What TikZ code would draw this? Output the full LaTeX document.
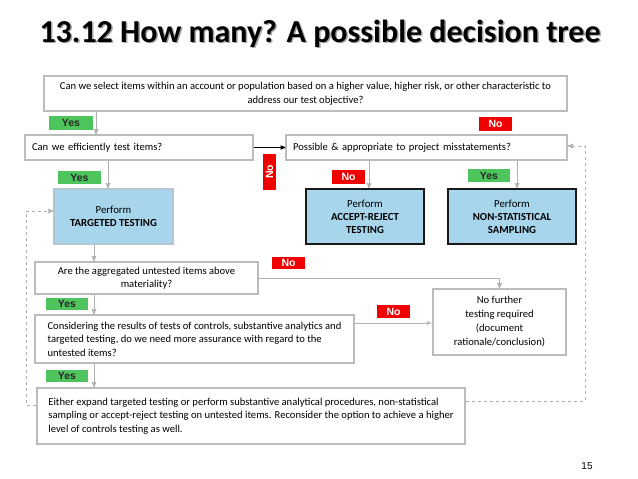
\documentclass[tikz,border=0pt]{standalone}
\usepackage{fontspec}
\setmainfont{Carlito}
\newfontfamily\tagfont{Liberation Sans}
\usetikzlibrary{arrows}
\definecolor{boxgray}{HTML}{BCBCBC}
\definecolor{linegray}{HTML}{B0B0B0}
\definecolor{bluefill}{HTML}{A6D5EC}
\definecolor{blueedge}{HTML}{B4C6D2}
\definecolor{taggreen}{HTML}{4DC45C}
\definecolor{tagred}{HTML}{F00000}
\tikzset{
	box/.style = {
		rectangle,
		draw=boxgray,
		line width=1.3pt,
		fill=white,
		inner sep=0pt,
		font=\fontsize{10.6}{13.5}\selectfont
	},
	box_c/.style = {
		box,
		align=center
	},
	box_l/.style = {
		box,
		align=left
	},
	box_line/.style = {
		box,
		align=left,
		inner xsep=7pt
	},
	box_blue/.style = {
		box_c,
		fill=bluefill,
		draw=blueedge,
		minimum height=55pt,
		font=\fontsize{10.8}{13}\selectfont
	},
	box_blue_dark/.style = {
		box_blue,
		draw=black!90
	},
	tag/.style = {
		rectangle,
		inner sep=0pt,
		font=\tagfont\bfseries\fontsize{10.5}{10.5}\selectfont,
		minimum height=13pt
	},
	tag_yes/.style = {
		tag,
		fill=taggreen,
		text=black!85,
		minimum width=43pt
	},
	tag_no/.style = {
		tag,
		fill=tagred,
		text=white,
		minimum width=33pt
	},
	line_gray/.style = {
		draw=linegray,
		line width=1pt,
		-stealth'
	},
	line_loop/.style = {
		line_gray,
		dashed
	}
}
\begin{document}
\begin{tikzpicture}[x=1pt,y=-1pt]
\useasboundingbox (0,0) rectangle (638,479);
\node [font=\bfseries\fontsize{32}{32}\selectfont, text=black!35] at (321.5,35) {13.12 How many? A possible decision tree};
\node (title) [font=\bfseries\fontsize{32}{32}\selectfont] at (320,33.5) {13.12 How many? A possible decision tree};
\node (q_select) [box_c, minimum width=523pt, minimum height=35pt] at (305.5,93.5)
	{Can we select items within an account or population based on a higher value, higher risk, or other characteristic to\\address our test objective?};
\node (q_efficient) [box_line, text width=214pt, minimum height=25pt] at (139,147.5) {Can we efficiently test items?};
\node (q_project) [box_line, text width=267pt, minimum height=25pt] at (426.5,147.5) {Possible \& appropriate to project misstatements?};
\node (p_targeted) [box_blue, minimum width=119pt] at (113.5,216.5) {Perform\\\textbf{TARGETED TESTING}};
\node (p_accept) [box_blue_dark, minimum width=118pt] at (365,216.5) {Perform\\\textbf{ACCEPT-REJECT}\\\textbf{TESTING}};
\node (p_nonstat) [box_blue_dark, minimum width=128pt] at (512,216.5) {Perform\\\textbf{NON-STATISTICAL}\\\textbf{SAMPLING}};
\node (q_material) [box_c, minimum width=223pt, minimum height=32pt] at (146.5,278) {Are the aggregated untested items above\\materiality?};
\node (q_assurance) [box_l, minimum width=319pt, minimum height=48pt] at (194.5,339)
	{Considering the results of tests of controls, substantive analytics and\\targeted testing, do we need more assurance with regard to the\\untested items?};
\node (p_none) [box_c, minimum width=133pt, minimum height=66pt, font=\fontsize{10.6}{14}\selectfont] at (499.5,322)
	{No further\\testing required\\(document\\rationale/conclusion)};
\node (p_expand) [box_l, minimum width=428pt, minimum height=56pt] at (251,416)
	{Either expand targeted testing or perform substantive analytical procedures, non-statistical\\sampling or accept-reject testing on untested items. Reconsider the option to achieve a higher\\level of controls testing as well.};
\node (page) [font=\tagfont\fontsize{10}{10}\selectfont] at (587,466) {15};

\node (yes_a) [tag_yes, minimum width=44pt, minimum height=14pt] at (71,123) {Yes};
\node (no_a) [tag_no, minimum height=14pt] at (495.5,124) {No};
\node (yes_b) [tag_yes] at (79.5,177.5) {Yes};
\node (no_b) [tag_no, rotate=90, minimum width=36pt] at (269.5,172) {No};
\node (no_c) [tag_no, minimum height=14pt] at (348.5,177) {No};
\node (yes_c) [tag_yes, minimum width=42pt] at (489,175.5) {Yes};
\node (no_d) [tag_no, minimum height=12pt] at (288.5,263) {No};
\node (yes_d) [tag_yes, minimum width=42pt, minimum height=12pt] at (67,304) {Yes};
\node (no_e) [tag_no] at (393.5,311.5) {No};
\node (yes_e) [tag_yes, minimum width=42pt, minimum height=12pt] at (67,376) {Yes};

\coordinate (col_a) at (96,0);
\coordinate (col_b) at (108,0);
\coordinate (col_c) at (369,0);
\coordinate (col_d) at (517,0);
\coordinate (col_e) at (94,0);
\coordinate (row_a) at (0,323);
\coordinate (loop_l_bot) at (26,405);
\coordinate (loop_l_top) at (26,211);
\coordinate (loop_r_bot) at (585,401);
\coordinate (loop_r_top) at (585,146);

\draw [line_gray] (q_select.south -| col_a) -- (q_efficient.north -| col_a);
\draw [draw=black, line width=0.8pt, -stealth'] (q_efficient.east) -- (q_project.west);
\draw [line_gray] (q_efficient.south -| col_b) -- (p_targeted.north -| col_b);
\draw [line_gray] (q_project.south -| col_c) -- (p_accept.north -| col_c);
\draw [line_gray] (q_project.south -| col_d) -- (p_nonstat.north -| col_d);
\draw [line_gray] (p_targeted.south -| col_e) -- (q_material.north -| col_e);
\draw [line_gray] (q_material.east) -| (p_none.north);
\draw [line_gray] (q_material.south -| col_e) -- (q_assurance.north -| col_e);
\draw [line_gray, -latex'] (q_assurance.east |- row_a) -- (p_none.west |- row_a);
\draw [line_gray] (q_assurance.south -| col_e) -- (p_expand.north -| col_e);
\draw [line_loop] (p_expand.west |- loop_l_bot) -- (loop_l_bot) -- (loop_l_top) -- (p_targeted.west |- loop_l_top);
\draw [line_loop] (p_expand.east |- loop_r_bot) -- (loop_r_bot) -- (loop_r_top) -- (q_project.east |- loop_r_top);
\end{tikzpicture}
\end{document}
